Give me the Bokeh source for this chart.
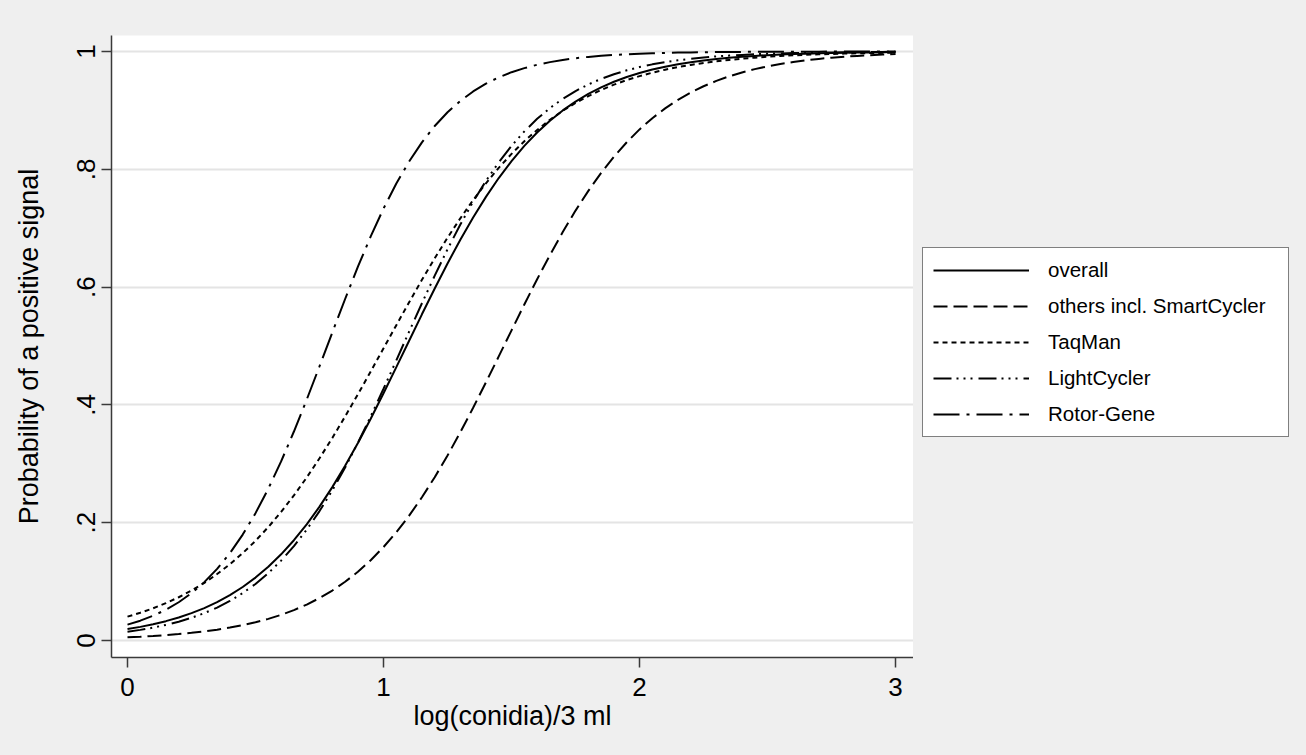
from bokeh.plotting import figure
from bokeh.layouts import row
from bokeh.models import Range1d, FixedTicker, Legend, LegendItem
from bokeh.embed import file_html
from bokeh.resources import INLINE

# ---- data ----
x_vals = [0.0, 0.05, 0.1, 0.15, 0.2, 0.25, 0.3, 0.35, 0.4, 0.45,
          0.5, 0.55, 0.6, 0.65, 0.7, 0.75, 0.8, 0.85, 0.9, 0.95,
          1.0, 1.05, 1.1, 1.15, 1.2, 1.25, 1.3, 1.35, 1.4, 1.45,
          1.5, 1.55, 1.6, 1.65, 1.7, 1.75, 1.8, 1.85, 1.9, 1.95,
          2.0, 2.05, 2.1, 2.15, 2.2, 2.25, 2.3, 2.35, 2.4, 2.45,
          2.5, 2.55, 2.6, 2.65, 2.7, 2.75, 2.8, 2.85, 2.9, 2.95, 3.0]

overall = [0.0194, 0.0231, 0.0275, 0.0328, 0.0390, 0.0464, 0.0550, 0.0651, 0.0770, 0.0908,
           0.1068, 0.1252, 0.1463, 0.1702, 0.1972, 0.2272, 0.2604, 0.2965, 0.3354, 0.3766,
           0.4197, 0.4641, 0.5090, 0.5538, 0.5977, 0.6402, 0.6805, 0.7183, 0.7532, 0.7852,
           0.8139, 0.8397, 0.8625, 0.8825, 0.9000, 0.9150, 0.9280, 0.9391, 0.9487, 0.9567,
           0.9636, 0.9694, 0.9743, 0.9785, 0.9819, 0.9849, 0.9873, 0.9894, 0.9911, 0.9926,
           0.9938, 0.9948, 0.9957, 0.9964, 0.9970, 0.9975, 0.9979, 0.9982, 0.9985, 0.9988, 0.9990]

others = [0.0054, 0.0064, 0.0077, 0.0091, 0.0109, 0.0130, 0.0155, 0.0184, 0.0219, 0.0261,
          0.0310, 0.0367, 0.0436, 0.0516, 0.0610, 0.0720, 0.0848, 0.0997, 0.1167, 0.1363,
          0.1586, 0.1838, 0.2119, 0.2431, 0.2772, 0.3141, 0.3535, 0.3951, 0.4382, 0.4823,
          0.5266, 0.5705, 0.6134, 0.6545, 0.6935, 0.7299, 0.7634, 0.7940, 0.8215, 0.8460,
          0.8678, 0.8868, 0.9035, 0.9179, 0.9303, 0.9410, 0.9501, 0.9579, 0.9645, 0.9701,
          0.9748, 0.9789, 0.9822, 0.9851, 0.9875, 0.9895, 0.9912, 0.9926, 0.9938, 0.9948, 0.9956]

taqman = [0.0405, 0.0471, 0.0546, 0.0634, 0.0734, 0.0849, 0.0979, 0.1128, 0.1294, 0.1483,
          0.1692, 0.1926, 0.2182, 0.2464, 0.2767, 0.3094, 0.3439, 0.3804, 0.4180, 0.4568,
          0.4960, 0.5354, 0.5742, 0.6123, 0.6489, 0.6839, 0.7168, 0.7478, 0.7763, 0.8025,
          0.8262, 0.8477, 0.8669, 0.8841, 0.8993, 0.9127, 0.9244, 0.9347, 0.9437, 0.9515,
          0.9582, 0.9641, 0.9692, 0.9736, 0.9773, 0.9806, 0.9834, 0.9858, 0.9878, 0.9896,
          0.9911, 0.9924, 0.9935, 0.9944, 0.9952, 0.9959, 0.9965, 0.9970, 0.9974, 0.9978, 0.9981]

lightcycler = [0.0149, 0.0180, 0.0218, 0.0264, 0.0319, 0.0385, 0.0464, 0.0559, 0.0671, 0.0804,
               0.0960, 0.1143, 0.1356, 0.1601, 0.1881, 0.2197, 0.2549, 0.2937, 0.3357, 0.3805,
               0.4274, 0.4757, 0.5244, 0.5726, 0.6195, 0.6643, 0.7063, 0.7451, 0.7803, 0.8119,
               0.8399, 0.8644, 0.8857, 0.9040, 0.9196, 0.9329, 0.9441, 0.9536, 0.9615, 0.9681,
               0.9736, 0.9782, 0.9820, 0.9851, 0.9877, 0.9899, 0.9917, 0.9931, 0.9943, 0.9953,
               0.9962, 0.9968, 0.9974, 0.9979, 0.9982, 0.9985, 0.9988, 0.9990, 0.9992, 0.9993, 0.9995]

rotorgene = [0.0269, 0.0336, 0.0420, 0.0522, 0.0649, 0.0803, 0.0990, 0.1215, 0.1483, 0.1798,
             0.2162, 0.2577, 0.3041, 0.3548, 0.4090, 0.4656, 0.5230, 0.5798, 0.6346, 0.6861,
             0.7334, 0.7759, 0.8133, 0.8458, 0.8735, 0.8968, 0.9162, 0.9322, 0.9454, 0.9561,
             0.9649, 0.9718, 0.9775, 0.9820, 0.9857, 0.9886, 0.9909, 0.9928, 0.9942, 0.9954,
             0.9964, 0.9971, 0.9977, 0.9982, 0.9985, 0.9988, 0.9991, 0.9993, 0.9994, 0.9995,
             0.9996, 0.9997, 0.9998, 0.9998, 0.9998, 0.9999, 0.9999, 0.9999, 0.9999, 0.9999, 0.9999]

series_names = ["overall", "others incl. SmartCycler", "TaqMan", "LightCycler", "Rotor-Gene"]

x_ticks = [0, 1, 2, 3]
y_ticks = [0, 0.2, 0.4, 0.6, 0.8, 1]
y_tick_labels = ["0", ".2", ".4", ".6", ".8", "1"]

x_title = "log(conidia)/3 ml"
y_title = "Probability of a positive signal"

# ---- styles ----
FONT = "Liberation Sans"
BG = "#efefef"
dashes = ["solid", "14 6", "5 4", "18 5 2 5 2 5 2 6", "26 7 3 7"]

p = figure(frame_width=802, frame_height=622, output_backend="svg", toolbar_location=None,
           x_range=Range1d(-0.0625, 3.07), y_range=Range1d(-0.0289, 1.0272),
           min_border_left=111, min_border_top=35, min_border_bottom=98, min_border_right=0)

p.background_fill_color = "white"
p.border_fill_color = BG
p.outline_line_color = None

p.xgrid.grid_line_color = None
p.ygrid.grid_line_color = "#e4e4e4"
p.ygrid.grid_line_width = 2
p.ygrid.ticker = FixedTicker(ticks=y_ticks)

for ax in (p.xaxis[0], p.yaxis[0]):
    ax.axis_line_color = "#3a3a3a"
    ax.axis_line_width = 1.5
    ax.major_tick_line_color = "#3a3a3a"
    ax.major_tick_line_width = 1.5
    ax.major_tick_out = 10
    ax.major_tick_in = 0
    ax.minor_tick_line_color = None
    ax.major_label_text_font = FONT
    ax.major_label_text_font_size = "26px"
    ax.major_label_text_color = "black"
    ax.axis_label_text_font = FONT
    ax.axis_label_text_font_size = "27px"
    ax.axis_label_text_font_style = "normal"
    ax.axis_label_text_color = "black"

p.xaxis.ticker = FixedTicker(ticks=x_ticks)
p.xaxis.axis_label = x_title
p.xaxis.major_label_standoff = 10
p.xaxis.axis_label_standoff = 2

p.yaxis.ticker = FixedTicker(ticks=y_ticks)
p.yaxis.major_label_overrides = {t: lab for t, lab in zip(y_ticks, y_tick_labels)}
p.yaxis.major_label_orientation = "vertical"
p.yaxis.axis_label = y_title
p.yaxis.major_label_standoff = 6
p.yaxis.axis_label_standoff = 31

all_series = [overall, others, taqman, lightcycler, rotorgene]
for ys, dash in zip(all_series, dashes):
    p.line(x_vals, ys, line_color="black", line_width=2, line_dash=dash)

# ---- legend panel (to the right of the plot) ----
p2 = figure(width=393, height=755, output_backend="svg", toolbar_location=None,
            x_range=Range1d(0, 1), y_range=Range1d(0, 1),
            x_axis_location=None, y_axis_location=None,
            min_border=0, min_border_left=0, min_border_right=0,
            min_border_top=0, min_border_bottom=0)
p2.background_fill_color = BG
p2.border_fill_color = BG
p2.outline_line_color = None
p2.xgrid.grid_line_color = None
p2.ygrid.grid_line_color = None

items = []
for name, dash in zip(series_names, dashes):
    # sample lines kept outside the visible range: only their legend entries show
    r = p2.line([5, 6], [5, 6], line_color="black", line_width=2, line_dash=dash)
    items.append(LegendItem(label=name, renderers=[r]))

legend = Legend(items=items, location=(9, 220),
                label_text_font=FONT, label_text_font_size="20.5px", label_text_color="black",
                glyph_width=96, glyph_height=24, label_height=24, label_standoff=19,
                label_width=230, spacing=12, padding=10, margin=0,
                border_line_color="black", border_line_width=1,
                background_fill_color="white", background_fill_alpha=1)
p2.add_layout(legend)

layout = row(p, p2, styles={"background-color": BG})
open("out.html", "w").write(file_html(layout, INLINE))
